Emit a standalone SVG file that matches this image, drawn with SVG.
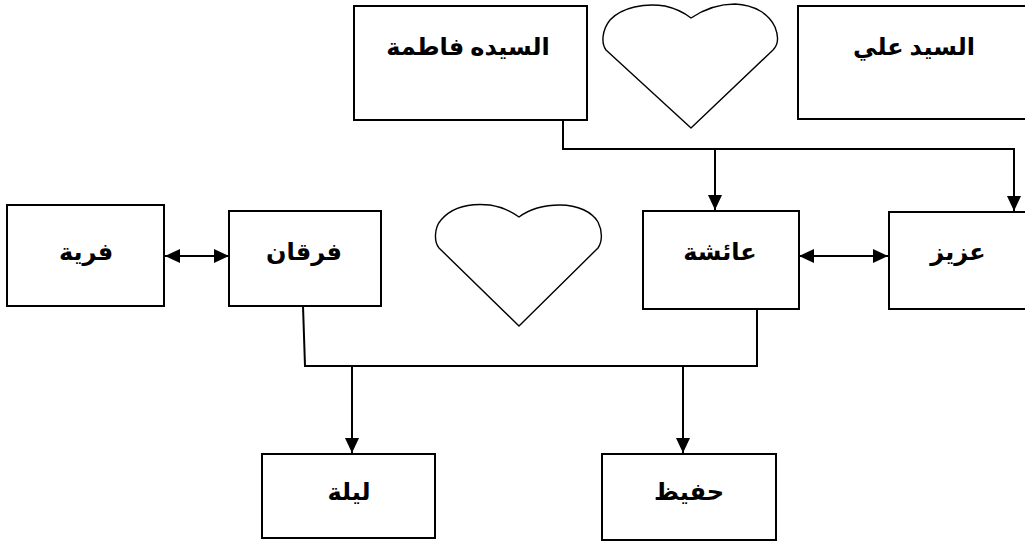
<svg xmlns="http://www.w3.org/2000/svg" width="1025" height="542" viewBox="0 0 1025 542">
<style>
.box{fill:#fff;stroke:#000;stroke-width:2}
.heart{fill:#fff;stroke:#000;stroke-width:1.4;stroke-linejoin:round}
.lbl{font-family:"Liberation Serif","DejaVu Sans",serif;font-weight:bold;font-size:24px;fill:#000;text-anchor:middle}
.con{fill:none;stroke:#000;stroke-width:2}
</style>
<defs>
<marker id="ah" markerUnits="userSpaceOnUse" markerWidth="16" markerHeight="14" refX="15" refY="7" orient="auto-start-reverse" viewBox="0 0 16 14">
<path d="M0,0 L15,7 L0,14 Z" fill="#000"/>
</marker>
</defs>
<rect width="1025" height="542" fill="#fff"/>
<g id="connectors">
<path class="con" d="M563,120 V149 H1014 V211" marker-end="url(#ah)"/>
<path class="con" d="M715,149 V210" marker-end="url(#ah)"/>
<path class="con" d="M799,256 H888" marker-start="url(#ah)" marker-end="url(#ah)"/>
<path class="con" d="M165,256 H229" marker-start="url(#ah)" marker-end="url(#ah)"/>
<path class="con" d="M303,306 L305,366 H757 V305"/>
<path class="con" d="M352,366 V453" marker-end="url(#ah)"/>
<path class="con" d="M683,366 V453" marker-end="url(#ah)"/>
</g>
<g id="heart1">
<path class="heart" d="M691,128 L606,50 C601,43 602,30 610,20 C622,7 645,3 665,6 C678,9 686,14 691,18 C700,12 715,4 735,4 C755,5 769,14 775,27 C779,37 778,45 773,50 Z"/>
</g>
<g id="heart2">
<path class="heart" d="M519,326 L439,248 C434,242 434,228 441,220 C452,207 470,203 490,205 C503,207 512,212 519,217 C527,211 540,205 560,205 C578,205 592,212 598,222 C603,232 602,242 598,248 Z"/>
</g>
<g id="fatima">
<rect class="box" x="354" y="6" width="233" height="114"/>
<text class="lbl" x="468" y="55">السيده فاطمة</text>
</g>
<g id="ali">
<rect class="box" x="798" y="6" width="240" height="113"/>
<text class="lbl" x="914" y="55">السيد علي</text>
</g>
<g id="faria">
<rect class="box" x="7" y="205" width="157" height="101"/>
<text class="lbl" x="86" y="260">فرية</text>
</g>
<g id="furqan">
<rect class="box" x="229" y="211" width="152" height="95"/>
<text class="lbl" x="304" y="260">فرقان</text>
</g>
<g id="aisha">
<rect class="box" x="643" y="211" width="156" height="98"/>
<text class="lbl" x="720" y="260">عائشة</text>
</g>
<g id="aziz">
<rect class="box" x="889" y="212" width="150" height="97"/>
<text class="lbl" x="958" y="260">عزيز</text>
</g>
<g id="laila">
<rect class="box" x="262" y="454" width="173" height="84"/>
<text class="lbl" x="349" y="500">ليلة</text>
</g>
<g id="hafiz">
<rect class="box" x="602" y="454" width="174" height="86"/>
<text class="lbl" x="689" y="500">حفيظ</text>
</g>
</svg>
